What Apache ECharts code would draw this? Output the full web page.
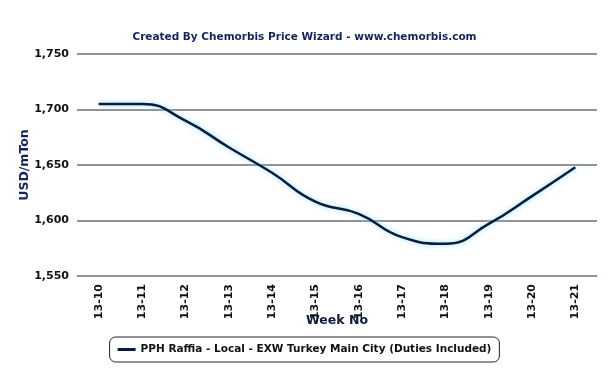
<!DOCTYPE html>
<html><head><meta charset="utf-8">
<script src="https://cdn.jsdelivr.net/npm/echarts@6/dist/echarts.min.js"></script>
<style>html,body{margin:0;padding:0;background:#fff}#c{width:609px;height:378px}</style>
</head><body><div id="c"></div>
<script>
const categories = ["13-10","13-11","13-12","13-13","13-14","13-15","13-16","13-17","13-18","13-19","13-20","13-21"];
const prices = [1705,1705,1690,1666,1643,1617,1606,1585,1579,1597,1622,1648];
const seriesName = "PPH Raffia - Local - EXW Turkey Main City (Duties Included)";
const titleText = "Created By Chemorbis Price Wizard - www.chemorbis.com";
const font = "DejaVu Sans";
const chart = echarts.init(document.getElementById('c'));
chart.setOption({
  animation: false,
  backgroundColor: '#fff',
  title: { text: titleText, left: 'center', top: 27,
    textStyle: { fontFamily: font, fontSize: 10.5, fontWeight: 'bold', color: '#14235a' } },
  grid: { left: 77, right: 12, top: 54, bottom: 102 },
  legend: { top: 337, left: 'center', data: [seriesName],
    borderColor: '#222', borderWidth: 1, borderRadius: 6, padding: [7, 8],
    itemWidth: 18, itemHeight: 3, icon: 'rect',
    textStyle: { fontFamily: font, fontSize: 10.5, fontWeight: 'bold', color: '#111' } },
  xAxis: { type: 'category', data: categories, boundaryGap: true,
    name: 'Week No', nameLocation: 'middle', nameGap: 38, nameMoveOverlap: false,
    nameTextStyle: { fontFamily: font, fontSize: 12.5, fontWeight: 'bold', color: '#0e1a3a' },
    axisLine: { lineStyle: { color: '#8a96a8', width: 1 } },
    axisTick: { alignWithLabel: true, length: 5, lineStyle: { color: '#666' } },
    axisLabel: { rotate: 90, fontFamily: font, fontSize: 11, fontWeight: 'bold', color: '#111', margin: 8 } },
  yAxis: { type: 'value', min: 1550, max: 1750, interval: 50,
    name: 'USD/mTon', nameLocation: 'middle', nameGap: 46, nameRotate: 90, nameMoveOverlap: false,
    nameTextStyle: { fontFamily: font, fontSize: 12.5, fontWeight: 'bold', color: '#14235a' },
    axisLine: { show: false }, axisTick: { show: false },
    splitLine: { lineStyle: { color: '#6e6e6e', width: 1.5 } },
    axisLabel: { fontFamily: font, fontSize: 11, fontWeight: 'bold', color: '#111', margin: 8,
      formatter: v => v.toLocaleString('en-US') } },
  series: [{ name: seriesName, type: 'line', data: prices, smooth: 0.5,
    showSymbol: false, symbol: 'none',
    lineStyle: { color: '#0b1c3a', width: 2.5, shadowColor: 'rgba(120,220,255,0.9)', shadowBlur: 5 },
    itemStyle: { color: '#0b1c3a' } }]
});
</script></body></html>
